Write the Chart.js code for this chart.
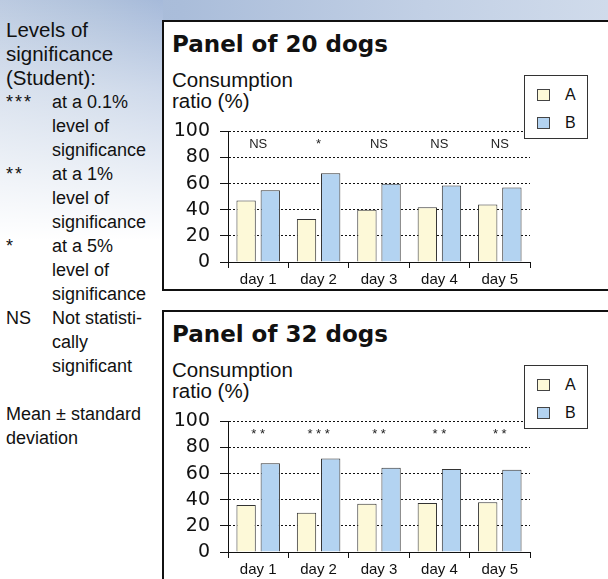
<!DOCTYPE html>
<html>
<head>
<meta charset="utf-8">
<script src="https://cdn.jsdelivr.net/npm/chart.js@4.4.1/dist/chart.umd.min.js"></script>
<style>
  html, body { margin: 0; padding: 0; background: #fff; }
  body { width: 608px; height: 579px; position: relative; overflow: hidden;
         font-family: "Liberation Sans", Arial, sans-serif; color: #111; }
  #bgTop { position: absolute; left: 0; top: 0; width: 608px; height: 22px;
           background: linear-gradient(to right, #a4b8d6 0%, #aabdda 30%, #c2d0e5 70%, #d0dbeb 100%); }
  #bgLeft { position: absolute; left: 0; top: 0; width: 163px; height: 300px;
            background: linear-gradient(to bottom, rgba(255,255,255,0) 0px, rgba(255,255,255,0.45) 90px, #fff 240px),
                        linear-gradient(to right, #bccbe1 0%, #b0c2dc 60%, #a6badA 100%); }
  .panel { position: absolute; left: 162px; width: 470px; border: 2px solid #111;
           box-sizing: border-box; background: #fff; }
  .title { position: absolute; left: 172px; font-family: "DejaVu Sans", sans-serif;
           font-size: 23px; font-weight: bold; line-height: 25px; }
  .ytitle { position: absolute; left: 172px; font-size: 20.5px; line-height: 21px; }
  canvas { position: absolute; left: 163px; }
  .legend { position: absolute; left: 524px; width: 64px; height: 64px; border: 1px solid #333;
            box-sizing: border-box; background: #fff; font-size: 16px; }
  .legend .item { position: absolute; left: 12px; height: 16px; line-height: 16px; }
  .legend .sw { position: absolute; left: 0; top: 2px; width: 11px; height: 10px; border: 1px solid #444; }
  .legend .lab { position: absolute; left: 28px; top: 0; }
  #notes { position: absolute; left: 6px; top: 18px; font-size: 18px; line-height: 24px; }
  #notes .head { font-size: 20.5px; }
  #notes .row { position: relative; }
  #notes .k { position: absolute; left: 0; top: 0; }
  #notes .stars { letter-spacing: 2px; }
  #notes .v { display: block; margin-left: 46px; }
</style>
</head>
<body>
<div id="bgTop"></div>
<div id="bgLeft"></div>

<div id="notes">
  <div class="head">Levels of<br>significance<br>(Student):</div>
  <div class="row"><span class="k stars">***</span><span class="v">at a 0.1%<br>level of<br>significance</span></div>
  <div class="row"><span class="k stars">**</span><span class="v">at a 1%<br>level of<br>significance</span></div>
  <div class="row"><span class="k stars">*</span><span class="v">at a 5%<br>level of<br>significance</span></div>
  <div class="row"><span class="k">NS</span><span class="v">Not statisti-<br>cally<br>significant</span></div>
  <div style="margin-top:24px">Mean ± standard<br>deviation</div>
</div>

<div class="panel" style="top:20px;height:271px;"></div>
<div class="title" style="top:32px;">Panel of 20 dogs</div>
<div class="ytitle" style="top:69px;">Consumption<br>ratio (%)</div>
<canvas id="chart20" width="445" height="180" style="top:110px;"></canvas>
<div class="legend" id="legend20" style="top:75px;"></div>

<div class="panel" style="top:310px;height:290px;"></div>
<div class="title" style="top:322px;">Panel of 32 dogs</div>
<div class="ytitle" style="top:359px;">Consumption<br>ratio (%)</div>
<canvas id="chart32" width="445" height="180" style="top:400px;"></canvas>
<div class="legend" id="legend32" style="top:365px;"></div>

<script>
// data
const days = ["day 1", "day 2", "day 3", "day 4", "day 5"];
const seriesNames = ["A", "B"];
const seriesColors = ["#fdf9d8", "#b3d3f1"];

const dogs20A = [47, 33, 40, 42, 44];
const dogs20B = [55, 68, 60, 58.5, 57];
const sig20 = ["NS", "*", "NS", "NS", "NS"];

const dogs32A = [36, 30, 37, 37.5, 38];
const dogs32B = [68, 71.5, 64.5, 63.5, 63];
const sig32 = ["**", "***", "**", "**", "**"];

const yMin = 0;
const yMax = 100;
const yStep = 20;
const sigLevel = 90; // height where the significance marks sit

// significance marks above each day
const sigPlugin = {
  id: "sigMarks",
  afterDatasetsDraw(chart, args, opts) {
    const ctx = chart.ctx;
    const x = chart.scales.x;
    const y = chart.scales.y;
    ctx.save();
    ctx.font = "13px 'Liberation Sans', Arial, sans-serif";
    ctx.fillStyle = "#222";
    ctx.textAlign = "center";
    ctx.textBaseline = "middle";
    opts.labels.forEach(function (txt, i) {
      const t = txt.indexOf("*") >= 0 ? txt.split("").join(" ") : txt;
      ctx.fillText(t, x.getPixelForValue(i), y.getPixelForValue(sigLevel));
    });
    ctx.restore();
  },
};

function buildLegend(id) {
  const box = document.getElementById(id);
  seriesNames.forEach(function (name, i) {
    const item = document.createElement("div");
    item.className = "item";
    item.style.top = (11 + i * 28) + "px";
    item.innerHTML =
      '<span class="sw" style="background:' + seriesColors[i] + '"></span>' +
      '<span class="lab">' + name + "</span>";
    box.appendChild(item);
  });
}

function makePanel(canvasId, aVals, bVals, sigLabels) {
  const ctx = document.getElementById(canvasId).getContext("2d");
  return new Chart(ctx, {
    type: "bar",
    data: {
      labels: days,
      datasets: [
        {
          label: seriesNames[0],
          data: aVals,
          backgroundColor: seriesColors[0],
          borderColor: "#333",
          borderWidth: 1,
        },
        {
          label: seriesNames[1],
          data: bVals,
          backgroundColor: seriesColors[1],
          borderColor: "#333",
          borderWidth: 1,
        },
      ],
    },
    options: {
      responsive: false,
      animation: false,
      devicePixelRatio: 1,
      layout: { padding: { top: 19, right: 78, bottom: 0, left: 0 } },
      plugins: {
        legend: { display: false },
        tooltip: { enabled: false },
        sigMarks: { labels: sigLabels },
      },
      datasets: { bar: { categoryPercentage: 0.8, barPercentage: 0.8 } },
      scales: {
        x: {
          type: "category",
          offset: true,
          afterFit: function (s) { s.height = 28; },
          grid: {
            offset: true,
            drawOnChartArea: false,
            drawTicks: true,
            tickLength: 6,
            color: "#111",
          },
          border: { display: true, color: "#111", width: 1 },
          ticks: {
            padding: 3,
            color: "#111",
            font: { family: "'Liberation Sans', Arial, sans-serif", size: 15 },
          },
        },
        y: {
          min: yMin,
          max: yMax,
          afterFit: function (s) { s.width = 65; },
          grid: {
            color: "#111",
            lineWidth: 1,
            tickLength: 8,
            tickColor: "#111",
          },
          border: { display: true, color: "#111", width: 1, dash: [2, 2] },
          ticks: {
            stepSize: yStep,
            padding: 10,
            color: "#111",
            font: { family: "'DejaVu Sans', sans-serif", size: 19 },
          },
        },
      },
    },
    plugins: [sigPlugin],
  });
}

makePanel("chart20", dogs20A, dogs20B, sig20);
makePanel("chart32", dogs32A, dogs32B, sig32);
buildLegend("legend20");
buildLegend("legend32");
</script>
</body>
</html>
